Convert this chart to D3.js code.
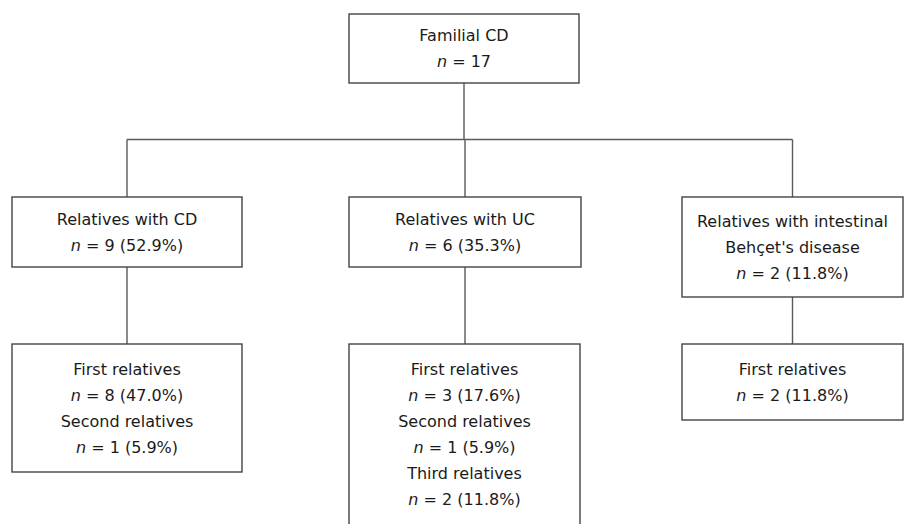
<!DOCTYPE html>
<html>
<head>
<meta charset="utf-8">
<script src="https://cdn.jsdelivr.net/npm/d3@7"></script>
<style>
  body { margin: 0; background: #fff; }
  text { font-family: Tahoma, "DejaVu Sans", sans-serif; fill: #1a1a1a; }
</style>
</head>
<body>
<script>
// chart data
var ids      = ["root", "cd", "uc", "bd", "cdRel", "ucRel", "bdRel"];
var parents  = [null, "root", "root", "root", "cd", "uc", "bd"];
var titles   = [
    ["Familial CD"],
    ["Relatives with CD"],
    ["Relatives with UC"],
    ["Relatives with intestinal", "Behçet's disease"],
    ["First relatives", "Second relatives"],
    ["First relatives", "Second relatives", "Third relatives"],
    ["First relatives"]
];
var counts   = [[17], [9], [6], [2], [8, 1], [3, 1, 2], [2]];
var percents = [[null], ["52.9%"], ["35.3%"], ["11.8%"], ["47.0%", "5.9%"], ["17.6%", "5.9%", "11.8%"], ["11.8%"]];

// layout (pixels)
var width = 904, height = 524;
var boxLeft   = [349, 12, 349, 682, 12, 349, 682];
var boxRight  = [579, 242, 581, 903, 242, 580, 903];
var boxTop    = [14, 197, 197, 197, 344, 344, 344];
var boxHeight = [69, 70, 70, 100, 128, 200, 76];
var lineGap = 26;
var busY = 139.5;

var svg = d3.select('body')
    .append('svg')
    .attr('width', width)
    .attr('height', height);

var nodes = ids.map(function(id, i) {
    // heading lines, each group followed by its "n = x (p)" line
    var lines = [];
    if (titles[i].length === counts[i].length) {
        titles[i].forEach(function(t, j) {
            lines.push({ text: t });
            lines.push({ n: counts[i][j], p: percents[i][j] });
        });
    } else {
        titles[i].forEach(function(t) { lines.push({ text: t }); });
        lines.push({ n: counts[i][0], p: percents[i][0] });
    }
    return {
        id: id,
        parent: parents[i],
        x0: boxLeft[i], x1: boxRight[i],
        y0: boxTop[i], y1: boxTop[i] + boxHeight[i],
        cx: (boxLeft[i] + boxRight[i]) / 2,
        lines: lines
    };
});

var byId = {};
nodes.forEach(function(d) { byId[d.id] = d; });

// connectors
var links = svg.append('g')
    .attr('stroke', '#5a5a5a')
    .attr('stroke-width', 1.4)
    .attr('fill', 'none');

var rootKids = nodes.filter(function(d) { return d.parent === "root"; });
var root = byId.root;

links.append('line')
    .attr('x1', root.cx).attr('x2', root.cx)
    .attr('y1', root.y1).attr('y2', busY);

links.append('line')
    .attr('x1', d3.min(rootKids, function(d) { return d.cx; }))
    .attr('x2', d3.max(rootKids, function(d) { return d.cx; }))
    .attr('y1', busY).attr('y2', busY);

links.selectAll('line.kid')
    .data(rootKids)
    .enter()
    .append('line')
    .attr('class', 'kid')
    .attr('x1', function(d) { return d.cx; })
    .attr('x2', function(d) { return d.cx; })
    .attr('y1', busY)
    .attr('y2', function(d) { return d.y0; });

links.selectAll('line.sub')
    .data(nodes.filter(function(d) { return d.parent && d.parent !== "root"; }))
    .enter()
    .append('line')
    .attr('class', 'sub')
    .attr('x1', function(d) { return byId[d.parent].cx; })
    .attr('x2', function(d) { return byId[d.parent].cx; })
    .attr('y1', function(d) { return byId[d.parent].y1; })
    .attr('y2', function(d) { return d.y0; });

// boxes
var box = svg.selectAll('g.box')
    .data(nodes)
    .enter()
    .append('g')
    .attr('class', 'box');

box.append('rect')
    .attr('x', function(d) { return d.x0; })
    .attr('y', function(d) { return d.y0; })
    .attr('width', function(d) { return d.x1 - d.x0; })
    .attr('height', function(d) { return d.y1 - d.y0; })
    .attr('fill', '#fff')
    .attr('stroke', '#444')
    .attr('stroke-width', 1.4);

box.each(function(d) {
    var g = d3.select(this);
    var n = d.lines.length;
    // the tall UC box runs off the bottom, so its text starts from the top
    var mid = d.id === "ucRel" ? d.y0 + 25 + (n - 1) * lineGap / 2 : (d.y0 + d.y1) / 2;
    d.lines.forEach(function(l, j) {
        var t = g.append('text')
            .attr('x', d.cx)
            .attr('y', mid + (j - (n - 1) / 2) * lineGap)
            .attr('dy', '0.35em')
            .attr('text-anchor', 'middle')
            .attr('font-size', '16px');
        if (l.text !== undefined) {
            t.text(l.text);
        } else {
            t.append('tspan').attr('font-style', 'italic').text('n');
            t.append('tspan').text(' = ' + l.n + (l.p ? ' (' + l.p + ')' : ''));
        }
    });
});
</script>
</body>
</html>
